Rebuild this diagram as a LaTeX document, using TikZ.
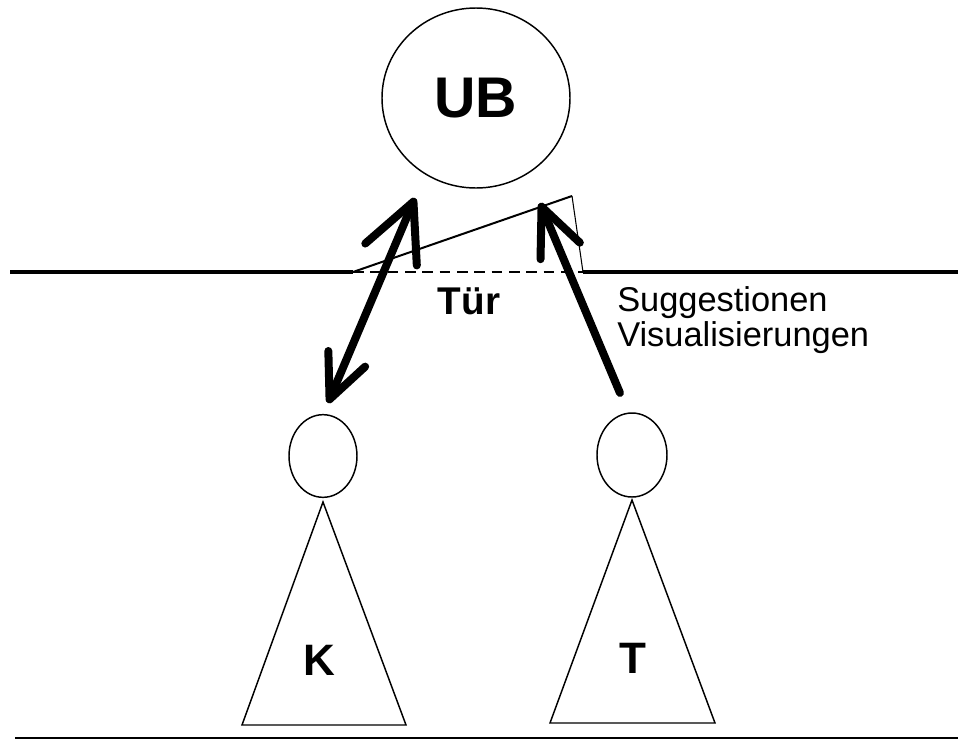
\documentclass[tikz,border=0pt]{standalone}
\usepackage{fontspec}
\setmainfont{Liberation Sans}
\usetikzlibrary{shapes.geometric,arrows.meta}
\begin{document}
\begin{tikzpicture}[x=0.75pt,y=-0.75pt,
  thinline/.style={line width=1.1pt},
  wall/.style={line width=2.4pt},
  bigarrow/.style={line width=6pt,line cap=round,line join=round},
  headnode/.style={draw,ellipse,thinline,inner sep=0pt},
  labelfont/.style={font=\bfseries\fontsize{33}{33}\selectfont}]
\useasboundingbox (0,0) rectangle (958,740);
\fill[white] (0,0) rectangle (958,740);
% UB
\node[headnode,minimum width=141pt,minimum height=135pt,font=\bfseries\fontsize{43}{43}\selectfont] (ub) at (476,98) {UB};
% walls
\coordinate (wl) at (10,272);
\coordinate (dl) at (353,272);
\coordinate (dr) at (583,272);
\coordinate (wr) at (958,272);
\coordinate (dt) at (572,196);
\draw[wall] (wl) -- (dl);
\draw[wall] (dr) -- (wr);
\draw[line width=1.1pt,dash pattern=on 8pt off 5pt] (dl) -- (dr);
\draw[line width=1.5pt] (dl) -- (dt);
\draw[line width=0.8pt] (dt) -- (dr);
\node[font=\bfseries\fontsize{29}{29}\selectfont] (tuer) at (469,301) {Tür};
\node[anchor=north west,align=left,inner sep=0pt,font=\fontsize{25.8}{26.5}\selectfont] (sv) at (617,286) {Suggestionen\\Visualisierungen};
% people
\node[headnode,minimum width=51pt,minimum height=62pt] (kh) at (323,456) {};
\node[headnode,minimum width=52.5pt,minimum height=63pt] (th) at (632,455) {};
\coordinate (ka) at (323,502);
\coordinate (kl) at (242,725);
\coordinate (kr) at (406,725);
\coordinate (ta) at (632,500);
\coordinate (tl) at (550,723);
\coordinate (tr) at (715,723);
\draw[thinline] (ka) -- (kl) -- (kr) -- cycle;
\draw[thinline] (ta) -- (tl) -- (tr) -- cycle;
\node[labelfont,anchor=base] (klab) at (319,675) {K};
\node[labelfont,anchor=base] (tlab) at (633,673) {T};
% ground
\coordinate (gl) at (15,738);
\coordinate (gr) at (958,738);
\draw[line width=1.9pt] (gl) -- (gr);
% arrows
\coordinate (a1s) at (328,403);
\coordinate (a1e) at (415,198);
\coordinate (a2s) at (620,393);
\coordinate (a2e) at (540,203);
\draw[bigarrow,{Straight Barb[length=33pt,width=30pt,line cap=round,line join=round]}-{Straight Barb[length=43pt,width=42pt,line cap=round,line join=round]}] (a1s) -- (a1e);
\draw[bigarrow,-{Straight Barb[length=36pt,width=32pt,line cap=round,line join=round]}] (a2s) -- (a2e);
\end{tikzpicture}
\end{document}
